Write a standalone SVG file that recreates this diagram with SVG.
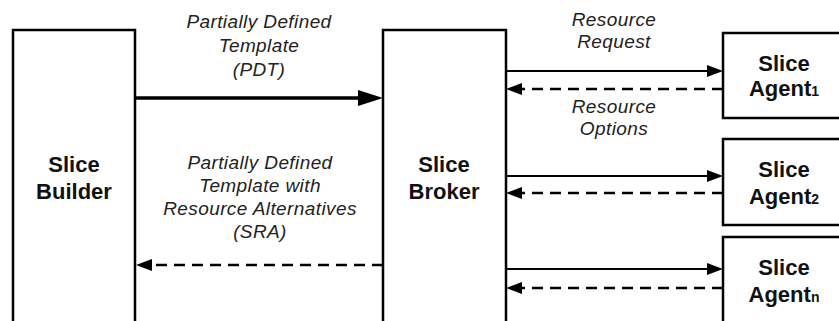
<svg xmlns="http://www.w3.org/2000/svg" width="839" height="321" viewBox="0 0 839 321">
<style>
.box{fill:#fff;stroke:#000;stroke-width:2.5}
.node{font-family:"Liberation Sans",Arial,sans-serif;font-weight:bold;font-size:22px;fill:#111;text-anchor:middle}
.lbl{font-family:"Liberation Sans",Arial,sans-serif;font-style:italic;font-size:19px;letter-spacing:0.4px;fill:#222;text-anchor:middle}
.sub{font-size:14px}
.solid{stroke:#000;stroke-width:2;fill:none}
.thick{stroke:#000;stroke-width:3.5;fill:none}
.dash{stroke:#000;stroke-width:2.5;fill:none;stroke-dasharray:11 7}
</style>
<defs>
<marker id="big" viewBox="0 0 25 16" refX="17" refY="8" markerWidth="25" markerHeight="16" markerUnits="userSpaceOnUse" orient="auto">
<path d="M0,0 L25,8 L0,16 z" fill="#000"/>
</marker>
<marker id="small" viewBox="0 0 16 12" refX="11" refY="6" markerWidth="16" markerHeight="12" markerUnits="userSpaceOnUse" orient="auto">
<path d="M0,0 L16,6 L0,12 z" fill="#000"/>
</marker>
</defs>
<rect width="839" height="321" fill="#fff"/>

<g id="builder">
<rect class="box" x="13" y="30" width="122" height="320"/>
<text class="node" x="74" y="172">Slice</text>
<text class="node" x="74" y="199">Builder</text>
</g>

<g id="broker">
<rect class="box" x="383" y="30" width="123" height="320"/>
<text class="node" x="444" y="172">Slice</text>
<text class="node" x="444" y="199">Broker</text>
</g>

<g id="agent1">
<rect class="box" x="723" y="33" width="140" height="85"/>
<text class="node" x="784" y="71">Slice</text>
<text class="node" x="784" y="96">Agent<tspan class="sub">1</tspan></text>
</g>

<g id="agent2">
<rect class="box" x="723" y="139" width="140" height="86"/>
<text class="node" x="784" y="177">Slice</text>
<text class="node" x="784" y="204">Agent<tspan class="sub">2</tspan></text>
</g>

<g id="agentn">
<rect class="box" x="723" y="237" width="140" height="120"/>
<text class="node" x="784" y="275">Slice</text>
<text class="node" x="784" y="302">Agent<tspan class="sub">n</tspan></text>
</g>

<g id="connectors">
<line class="thick" x1="135" y1="98" x2="375" y2="98" marker-end="url(#big)"/>
<line class="dash" x1="383" y1="265" x2="141" y2="265" marker-end="url(#small)"/>
<line class="solid" x1="506" y1="71" x2="718" y2="71" marker-end="url(#small)"/>
<line class="dash" x1="723" y1="89" x2="511" y2="89" marker-end="url(#small)"/>
<line class="solid" x1="506" y1="176" x2="718" y2="176" marker-end="url(#small)"/>
<line class="dash" x1="723" y1="193" x2="511" y2="193" marker-end="url(#small)"/>
<line class="solid" x1="506" y1="269" x2="718" y2="269" marker-end="url(#small)"/>
<line class="dash" x1="723" y1="288" x2="511" y2="288" marker-end="url(#small)"/>
</g>

<g id="labels">
<text class="lbl" x="259" y="28">Partially Defined</text>
<text class="lbl" x="259" y="52">Template</text>
<text class="lbl" x="259" y="76">(PDT)</text>
<text class="lbl" x="260" y="169">Partially Defined</text>
<text class="lbl" x="260" y="192">Template with</text>
<text class="lbl" x="260" y="215">Resource Alternatives</text>
<text class="lbl" x="260" y="238">(SRA)</text>
<text class="lbl" x="614" y="26">Resource</text>
<text class="lbl" x="614" y="48">Request</text>
<text class="lbl" x="614" y="113">Resource</text>
<text class="lbl" x="614" y="135">Options</text>
</g>
</svg>
